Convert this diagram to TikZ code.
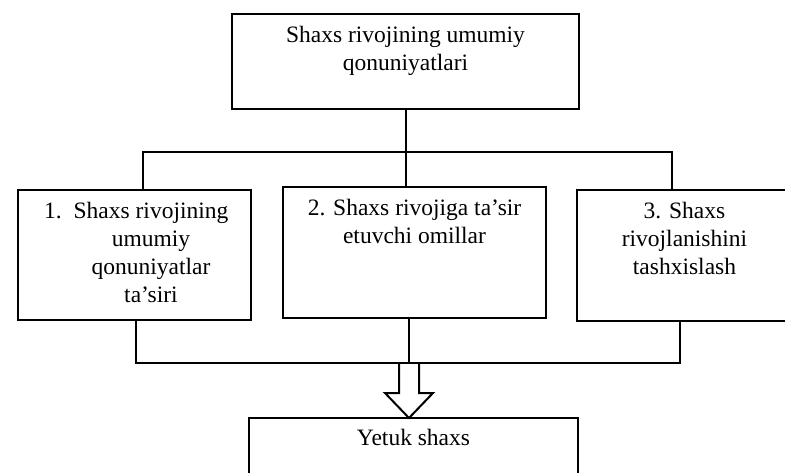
\documentclass[tikz,border=0pt]{standalone}
\usepackage{fontspec}
\setmainfont{Liberation Serif}
\usetikzlibrary{positioning}

\begin{document}
\begin{tikzpicture}[
  x=1pt, y=-1pt,
  node distance = 13pt,
  base/.style = {
    rectangle,
    draw,
    line width=2.2pt,
    inner sep=0pt,
  },
  box/.style = {base, minimum width=#1},
  txt/.style = {
    align=center,
    inner sep=0pt,
    font=\fontsize{23.5}{28}\selectfont
  },
  line/.style = {line width=2pt},
  ]
  \clip (0,0) rectangle (785,473);
  % boxes
  \node[box=347pt, minimum height=95pt] (law) at (405.5,61.5) {};
  \node[box=233pt, minimum height=130pt] (f1) at (134.5,255) {};
  \node[box=263pt, minimum height=131pt] (f2) at (414.5,252.5) {};
  \node[box=215pt, minimum height=131pt] (f3) at (684.5,255.5) {};
  \node[box=329pt, minimum height=90pt] (goal) at (413.5,463) {};
  % texts
  \node[txt, below=of law.north] (lawT) {Shaxs rivojining umumiy\\ qonuniyatlari};
  \node[txt, below=of f1.north, xshift=16.5pt] (f1T)
    {\llap{1.\hspace{12pt}}Shaxs rivojining\\ umumiy\\ qonuniyatlar\\ ta’siri};
  \node[txt, below=of f2.north] (f2T) {2. Shaxs rivojiga ta’sir\\ etuvchi omillar};
  \node[txt, below=of f3.north] (f3T) {3. Shaxs\\ rivojlanishini\\ tashxislash};
  \node[txt, below=12pt of goal.north] (goalT) {Yetuk shaxs};
  % upper bus
  \coordinate (u1) at (143,152);
  \coordinate (u3) at (672,152);
  \draw[line] (law.south) -- (law.south |- f2.north);
  \draw[line] (u1 |- f1.north) -- (u1) -- (u3) -- (u3 |- f3.north);
  % lower bus
  \coordinate (d1) at (136,363);
  \coordinate (d2) at (409,363);
  \coordinate (d3) at (680,363);
  \draw[line] (d1 |- f1.south) -- (d1) -- (d3) -- (d3 |- f3.south);
  \draw[line] (d2 |- f2.south) -- (d2);
  % hollow arrow
  \draw[line] (d2) +(-10,0) -- +(-10,30) -- +(-24,30) -- +(0,55)
    -- +(24,30) -- +(10,30) -- +(10,0);
\end{tikzpicture}
\end{document}
